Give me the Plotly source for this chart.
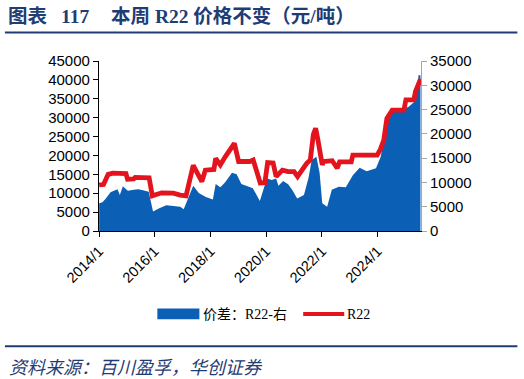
import plotly.graph_objects as go

# ---------------- data ----------------
r22_dates = [
    "2014-01-03", "2014-03-01", "2014-05-01", "2014-07-01", "2014-12-20", "2015-01-10",
    "2015-04-01", "2015-04-20", "2015-10-20", "2015-12-01", "2016-04-01", "2016-09-01",
    "2016-12-01", "2017-02-15", "2017-05-20", "2017-09-10", "2017-10-25", "2018-02-15",
    "2018-03-10", "2018-05-10", "2018-07-15", "2018-11-10", "2019-01-05", "2019-06-01",
    "2019-07-15", "2019-10-15", "2019-12-15", "2020-01-20", "2020-04-01", "2020-05-10",
    "2020-08-01", "2020-10-15", "2021-01-01", "2021-02-15", "2021-06-15", "2021-08-01",
    "2021-09-10", "2021-10-10", "2021-11-10", "2022-01-05", "2022-01-20", "2022-05-15",
    "2022-07-20", "2022-08-20", "2023-01-20", "2023-02-10", "2023-12-25", "2024-02-05",
    "2024-03-20", "2024-05-01", "2024-07-10", "2024-12-10", "2025-01-05", "2025-04-20",
    "2025-05-10", "2025-06-10", "2025-07-15",
]
r22_values = [
    12200, 12300, 15000, 15300, 15200, 13700,
    13800, 14200, 14100, 9300, 10100, 10000,
    9500, 9300, 17400, 13100, 16100, 16300,
    19200, 17500, 19700, 23200, 18400, 18400,
    18800, 12700, 12800, 18100, 18000, 14400,
    16100, 15700, 15700, 14400, 17900, 18800,
    25500, 27200, 24000, 17500, 18400, 18600,
    16600, 18300, 18300, 20100, 20100, 21600,
    24000, 29800, 32000, 32000, 34700, 34700,
    36900, 38600, 40200,
]

spread_dates = [
    "2014-01-03", "2014-02-15", "2014-04-01", "2014-06-01", "2014-07-15", "2014-09-01",
    "2014-10-01", "2014-11-10", "2014-12-15", "2015-01-15", "2015-04-01", "2015-06-01",
    "2015-08-01", "2015-10-15", "2015-12-10", "2016-03-01", "2016-06-01", "2016-09-01",
    "2016-12-01", "2017-01-15", "2017-05-20", "2017-08-01", "2017-11-01", "2018-02-01",
    "2018-03-10", "2018-05-10", "2018-07-10", "2018-10-10", "2018-12-10", "2019-02-10",
    "2019-04-15", "2019-07-10", "2019-10-10", "2020-01-10", "2020-03-15", "2020-05-10",
    "2020-06-10", "2020-08-10", "2020-10-15", "2020-12-10", "2021-02-10", "2021-05-10",
    "2021-07-10", "2021-08-20", "2021-10-20", "2021-12-01", "2022-01-05", "2022-03-10",
    "2022-05-10", "2022-08-10", "2022-11-10", "2023-02-10", "2023-05-10", "2023-08-10",
    "2023-12-10", "2024-02-10", "2024-03-20", "2024-05-10", "2024-07-10", "2024-11-10",
    "2025-02-10", "2025-04-20", "2025-06-01", "2025-06-20", "2025-07-15",
]
spread_values = [
    5700, 5900, 6700, 8000, 8300, 8600,
    7400, 9200, 8700, 8300, 8500, 8600,
    8400, 8100, 4000, 4700, 5300, 5200,
    5000, 4500, 9300, 7800, 7000, 6500,
    9700, 9000, 10000, 12000, 11700, 9700,
    9300, 8800, 6200, 10800, 10500, 10800,
    9300, 10300, 9600, 8400, 6700, 7400,
    11000, 14600, 15300, 12000, 5700, 5000,
    8500, 9100, 9000, 11500, 13000, 12300,
    12900, 15300, 18700, 22500, 24500, 24900,
    25600, 26500, 28700, 32100, 32000,
]

tick_dates = ["2014-01-01", "2016-01-01", "2018-01-01", "2020-01-01", "2022-01-01", "2024-01-01"]
tick_labels = ["2014/1", "2016/1", "2018/1", "2020/1", "2022/1", "2024/1"]
left_ticks = [0, 5000, 10000, 15000, 20000, 25000, 30000, 35000, 40000, 45000]
right_ticks = [0, 5000, 10000, 15000, 20000, 25000, 30000, 35000]

# ---------------- style ----------------
BLUE = "#0B5FB4"
RED = "#E3141E"
NAVY = "#1F3C73"
W, H = 524, 379
L, R, T, B = 99, 420.7, 60.7, 230.7

def px(x):
    return (x - L) / (R - L)

def py(y):
    return (B - y) / (B - T)

fig = go.Figure()
fig.add_trace(go.Scatter(
    x=spread_dates, y=spread_values, mode="lines", fill="tozeroy",
    line=dict(width=0, color=BLUE), fillcolor=BLUE, yaxis="y",
    name="价差：R22-右", showlegend=False,
))
fig.add_trace(go.Scatter(
    x=r22_dates, y=r22_values, mode="lines", line=dict(width=4.8, color=RED),
    yaxis="y2", name="R22", showlegend=False,
))

tickfont = dict(family="Liberation Sans, Arial", size=15, color="#000000")
fig.update_layout(
    width=W, height=H,
    margin=dict(l=L, r=W - R, t=T, b=H - B),
    paper_bgcolor="white", plot_bgcolor="white",
    xaxis=dict(
        type="date", range=["2014-01-01", "2025-07-22"],
        tickvals=tick_dates, ticktext=tick_labels, tickangle=-45,
        showgrid=False, showline=True, linecolor="#000000", linewidth=1.2,
        ticks="outside", ticklen=5, tickcolor="#000000",
        tickfont=dict(family="Liberation Sans, Arial", size=14.5, color="#000"),
        zeroline=False,
    ),
    yaxis=dict(
        side="right", range=[0, 35000], tickvals=right_ticks, tickformat="d",
        showgrid=False, showline=True, linecolor="#A6A6A6", linewidth=1,
        ticks="outside", ticklen=5, tickcolor="#A6A6A6", tickfont=tickfont,
        zeroline=False,
    ),
    yaxis2=dict(
        side="left", overlaying="y", range=[0, 45000], tickvals=left_ticks, tickformat="d",
        showgrid=False, showline=True, linecolor="#000000", linewidth=1.2,
        ticks="outside", ticklen=5, tickcolor="#000000", tickfont=tickfont,
        zeroline=False,
    ),
)

shapes = [
    dict(type="line", xref="paper", yref="paper", x0=px(5), x1=px(517), y0=py(32.3), y1=py(32.3),
         line=dict(color=NAVY, width=2)),
    dict(type="line", xref="paper", yref="paper", x0=px(5), x1=px(517), y0=py(346), y1=py(346),
         line=dict(color=NAVY, width=2)),
    dict(type="rect", xref="paper", yref="paper", x0=px(157.3), x1=px(199.3), y0=py(319), y1=py(308.3),
         fillcolor=BLUE, line=dict(width=0)),
    dict(type="line", xref="paper", yref="paper", x0=px(303), x1=px(344), y0=py(313.7), y1=py(313.7),
         line=dict(color=RED, width=4)),
]
fig.update_layout(shapes=shapes)

title_font = dict(family="Liberation Serif, Noto Sans CJK SC", size=19.5, color=NAVY)
annos = [
    dict(text="<b>图表</b>", x=px(6), y=py(16), xanchor="left", yanchor="middle", font=title_font),
    dict(text="<b>117</b>", x=px(59), y=py(16), xanchor="left", yanchor="middle", font=title_font),
    dict(text="<b>本周 R22 价格不变（元/吨）</b>", x=px(109), y=py(16), xanchor="left", yanchor="middle",
         font=title_font),
    dict(text="<i>资料来源：百川盈孚，华创证券</i>", x=px(7), y=py(366), xanchor="left", yanchor="middle",
         font=dict(family="Noto Sans CJK SC", size=18, color=NAVY)),
    dict(text="价差：R22-右", x=px(201), y=py(313.7), xanchor="left", yanchor="middle",
         font=dict(family="Liberation Serif, Noto Sans CJK SC", size=14, color="#000")),
    dict(text="R22", x=px(344.5), y=py(313.7), xanchor="left", yanchor="middle",
         font=dict(family="Liberation Serif, Noto Sans CJK SC", size=14, color="#000")),
]
for a in annos:
    a.update(xref="paper", yref="paper", showarrow=False)
fig.update_layout(annotations=annos)

fig.write_html(
    "out.html",
    config={"displayModeBar": False},
    post_script="document.body.style.margin='0';document.body.style.overflow='hidden';",
)
